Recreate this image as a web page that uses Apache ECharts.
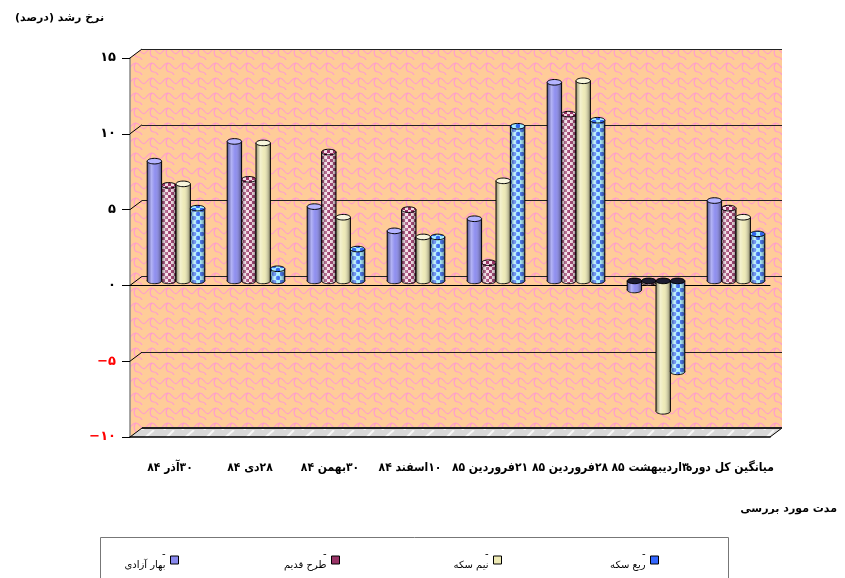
<!DOCTYPE html>
<html>
<head>
<meta charset="utf-8">
<script src="https://cdn.jsdelivr.net/npm/echarts@6/dist/echarts.min.js"></script>
<style>
  html, body { margin: 0; background: #fff; }
  #main { width: 845px; height: 578px; }
</style>
</head>
<body>
<div id="main" dir="rtl"></div>
<script>
// data
const categories = ['۳۰آذر ۸۴', '۲۸دی ۸۴', '۳۰بهمن ۸۴', '۱۰اسفند ۸۴', '۲۱فروردین ۸۵', '۲۸فروردین ۸۵', '۳اردیبهشت ۸۵', 'میانگین کل دوره']
const seriesNames = ['بهار آزادی', 'طرح قدیم', 'نیم سکه', 'ربع سکه']
const baharAzadi = [7.9, 9.2, 4.9, 3.3, 4.1, 13.1, -0.6, 5.3]
const tarhGhadim = [6.3, 6.7, 8.5, 4.7, 1.2, 11.0, -0.1, 4.8]
const nimSekke = [6.4, 9.1, 4.2, 2.9, 6.6, 13.2, -8.6, 4.2]
const robSekke = [4.8, 0.8, 2.1, 2.9, 10.2, 10.6, -6.0, 3.1]
const yTicks = [-10, -5, 0, 5, 10, 15]

const seriesValues = [baharAzadi, tarhGhadim, nimSekke, robSekke]
const FONT = 'DejaVu Sans'
const FONT_NARROW = 'DejaVu Sans Condensed'

// 3d box: front plane, depth offset
const FX = 130, FY = 58, W = 640, H = 379
const DX = 12, DY = -9

const fa = s => String(s).replace(/\d/g, d => '۰۱۲۳۴۵۶۷۸۹'[d])

function tile (w, h, draw) {
  const c = document.createElement('canvas')
  c.width = w
  c.height = h
  draw(c.getContext('2d'))
  return c
}

const wallTile = tile(16, 15, ctx => {
  ctx.fillStyle = '#FFCC99'
  ctx.fillRect(0, 0, 16, 15)
  ctx.strokeStyle = '#FF9ECC'
  ctx.lineWidth = 1.2
  ctx.beginPath()
  ctx.moveTo(-1, 9)
  ctx.bezierCurveTo(3, 9, 3, 3, 8, 3)
  ctx.bezierCurveTo(12, 3, 12, 9, 17, 9)
  ctx.stroke()
  ctx.beginPath()
  ctx.moveTo(8, 3)
  ctx.bezierCurveTo(5, 6, 6, 12, 10, 12)
  ctx.bezierCurveTo(13, 12, 14, 15, 14, 16)
  ctx.stroke()
})

const floorTile = tile(40, 10, ctx => {
  ctx.fillStyle = '#D8D8D8'
  ctx.fillRect(0, 0, 40, 10)
  ctx.strokeStyle = '#F6F6F6'
  ctx.lineWidth = 2
  ctx.beginPath()
  ctx.moveTo(4, 10); ctx.lineTo(14, 0)
  ctx.moveTo(22, 10); ctx.lineTo(34, 0)
  ctx.stroke()
})

const checkTile = tile(6, 6, ctx => {
  ctx.fillStyle = '#993366'
  ctx.fillRect(0, 0, 6, 6)
  ctx.fillStyle = '#F2DCE6'
  ctx.fillRect(0, 0, 3, 3)
  ctx.fillRect(3, 3, 3, 3)
})

const bubbleTile = tile(8, 8, ctx => {
  ctx.fillStyle = '#A6F0FF'
  ctx.fillRect(0, 0, 8, 8)
  ctx.fillStyle = '#3366EE'
  ;[[2, 2], [6, 6]].forEach(p => {
    ctx.beginPath()
    ctx.arc(p[0], p[1], 2.3, 0, Math.PI * 2)
    ctx.fill()
  })
})

const colors = ['#8888EE', '#993366', '#EDE9B4', '#3366FF']
const fills = ['#8888EE', { image: checkTile, repeat: 'repeat' }, '#EDE9B4', { image: bubbleTile, repeat: 'repeat' }]
const caps = ['#B4B4FF', { image: checkTile, repeat: 'repeat' }, '#F8F6DC', { image: bubbleTile, repeat: 'repeat' }]

const shade = {
  type: 'linear', x: 0, y: 0, x2: 1, y2: 0,
  colorStops: [
    { offset: 0, color: 'rgba(0,0,0,0.4)' },
    { offset: 0.3, color: 'rgba(255,255,255,0.35)' },
    { offset: 0.55, color: 'rgba(255,255,255,0.05)' },
    { offset: 1, color: 'rgba(0,0,0,0.45)' }
  ]
}

function renderCylinder (s) {
  return function (params, api) {
    const c = api.value(0)
    const v = api.value(1)
    const band = api.size([1, 0])[0]
    const w = band * 0.18
    const base = api.coord([c, 0])
    const end = api.coord([c, v])
    const x = base[0] - 2 * w + s * w
    const cx = x + w / 2
    const rx = w / 2
    const ry = 2.8
    const yTop = Math.min(base[1], end[1])
    const yBot = Math.max(base[1], end[1])
    return {
      type: 'group',
      children: [
        { type: 'ellipse', shape: { cx, cy: yBot, rx, ry }, style: { fill: fills[s], stroke: '#000', lineWidth: 1 } },
        { type: 'ellipse', shape: { cx, cy: yBot, rx, ry }, style: { fill: shade } },
        { type: 'rect', shape: { x, y: yTop, width: w, height: yBot - yTop }, style: { fill: fills[s] } },
        { type: 'rect', shape: { x, y: yTop, width: w, height: yBot - yTop }, style: { fill: shade } },
        { type: 'line', shape: { x1: x, y1: yTop, x2: x, y2: yBot }, style: { stroke: '#000', lineWidth: 1 } },
        { type: 'line', shape: { x1: x + w, y1: yTop, x2: x + w, y2: yBot }, style: { stroke: '#000', lineWidth: 1 } },
        { type: 'ellipse', shape: { cx, cy: yTop, rx, ry }, style: { fill: v < 0 ? '#1c1c30' : caps[s], stroke: '#000', lineWidth: 1 } }
      ]
    }
  }
}

const yMin = yTicks[0]
const yMax = yTicks[yTicks.length - 1]
const yStep = yTicks[1] - yTicks[0]

function valueAxis (grid, extra) {
  return Object.assign({
    type: 'value', gridIndex: grid, min: yMin, max: yMax, interval: yStep,
    axisLine: { show: false }, axisTick: { show: false }, axisLabel: { show: false }, splitLine: { show: false }
  }, extra)
}

const legendRight = [666, 505, 343, 186]

const chart = echarts.init(document.getElementById('main'))
const option = {
  animation: false,
  textStyle: { fontFamily: FONT },
  title: [
    { text: 'نرخ رشد (درصد)', left: 10, top: 8, textStyle: { fontSize: 11, fontWeight: 'bold', color: '#000', fontFamily: FONT } },
    { text: 'مدت مورد بررسی', right: 3, top: 499, textStyle: { fontSize: 11, fontWeight: 'bold', color: '#000', fontFamily: FONT } }
  ],
  legend: seriesNames.map((n, i) => ({
    data: [n],
    right: legendRight[i],
    top: 549,
    align: 'right',
    icon: 'rect',
    itemWidth: 8,
    itemHeight: 8,
    selectedMode: false,
    padding: 0,
    itemStyle: { borderColor: '#000', borderWidth: 1 },
    formatter: name => '-\n' + name,
    textStyle: { fontSize: 10, lineHeight: 11, color: '#000', fontFamily: FONT }
  })),
  grid: [
    { left: FX + DX, top: FY + DY, width: W, height: H },
    { left: FX + DX / 2, top: FY + DY / 2, width: W, height: H },
    { left: FX, top: FY, width: W, height: H }
  ],
  xAxis: [
    { type: 'category', gridIndex: 0, data: categories, show: false },
    { type: 'category', gridIndex: 1, data: categories, show: false },
    {
      type: 'category', gridIndex: 2, data: categories,
      axisLine: { onZero: true, lineStyle: { color: '#000', width: 1 } },
      axisTick: { length: 8, lineStyle: { color: '#000' } },
      axisLabel: { show: false }
    },
    {
      type: 'category', gridIndex: 2, data: categories, position: 'bottom',
      axisLine: { onZero: false, lineStyle: { color: '#000', width: 1.5 } },
      axisTick: { length: 8, lineStyle: { color: '#555' } },
      axisLabel: { interval: 0, margin: 25, fontSize: 12, fontWeight: 'bold', color: '#000', fontFamily: FONT_NARROW }
    }
  ],
  yAxis: [
    valueAxis(0, { splitLine: { show: true, lineStyle: { color: '#222', width: 1 } } }),
    valueAxis(1),
    valueAxis(2, {
      axisLine: { show: true, lineStyle: { color: '#888', width: 1.5 } },
      axisTick: { show: true, length: 8, lineStyle: { color: '#000' } },
      axisLabel: {
        show: true, margin: 14, fontSize: 13, fontWeight: 'bold', fontFamily: FONT,
        formatter: v => v < 0 ? '\u200E\u2212' + fa(-v) : fa(v),
        color: v => v < 0 ? '#FF0000' : '#000'
      }
    })
  ],
  series: seriesNames.map((n, s) => ({
    name: n,
    type: 'custom',
    xAxisIndex: 1,
    yAxisIndex: 1,
    itemStyle: { color: colors[s] },
    encode: { x: 0, y: 1 },
    renderItem: renderCylinder(s),
    data: seriesValues[s].map((v, i) => [i, v])
  }))
}
chart.setOption(option)

// walls, floor and depth edges
const tickLines = yTicks.map(t => {
  const y = chart.convertToPixel({ yAxisIndex: 2 }, t)
  return { type: 'line', z: 5, shape: { x1: FX, y1: y, x2: FX + DX, y2: y + DY }, style: { stroke: '#000', lineWidth: 1 } }
})
const yBottom = FY + H
chart.setOption({
  graphic: { elements: [
    {
      type: 'polygon', z: -10,
      shape: { points: [[FX, FY], [FX + DX, FY + DY], [FX + DX + W, FY + DY], [FX + DX + W, yBottom + DY], [FX + W, yBottom], [FX, yBottom]] },
      style: { fill: { image: wallTile, repeat: 'repeat' } }
    },
    {
      type: 'polygon', z: -9,
      shape: { points: [[FX, yBottom], [FX + DX, yBottom + DY], [FX + DX + W, yBottom + DY], [FX + W, yBottom]] },
      style: { fill: { image: floorTile, repeat: 'repeat' } }
    },
    { type: 'line', z: 5, shape: { x1: FX + W, y1: yBottom, x2: FX + W + DX, y2: yBottom + DY }, style: { stroke: '#000', lineWidth: 1 } },
    { type: 'line', z: 5, shape: { x1: FX + DX, y1: yBottom + DY, x2: FX + DX + W, y2: yBottom + DY }, style: { stroke: '#222', lineWidth: 2 } },
    { type: 'rect', z: 5, shape: { x: 100.5, y: 537.5, width: 628, height: 60 }, style: { fill: null, stroke: '#777', lineWidth: 1 } }
  ].concat(tickLines) }
})
</script>
</body>
</html>
